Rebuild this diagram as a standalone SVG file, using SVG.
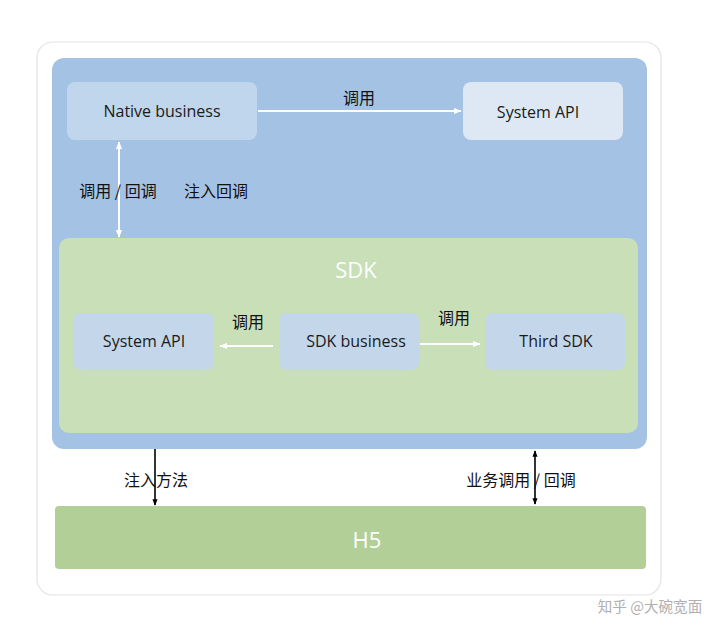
<svg xmlns="http://www.w3.org/2000/svg" width="720" height="636" viewBox="0 0 720 636">
<defs>
<style>
.lbl{font-family:"Open Sans","Noto Sans","Noto Sans CJK SC",sans-serif;font-size:16px;fill:#1a1a1a;text-anchor:middle}
.cn{font-family:"Noto Sans CJK SC",sans-serif;font-size:16px;fill:#111;text-anchor:middle}
.big{font-family:"Open Sans","Noto Sans",sans-serif;font-size:22px;fill:#ffffff;text-anchor:middle}
.wl{stroke:#ffffff;stroke-width:2;fill:none}
.bl{stroke:#000000;stroke-width:1.6;fill:none}
</style>
<marker id="aw" viewBox="0 0 10 10" refX="9" refY="5" markerWidth="4" markerHeight="4" orient="auto-start-reverse"><path d="M0,1 L10,5 L0,9 z" fill="#ffffff"/></marker>
<marker id="ab" viewBox="0 0 10 10" refX="9" refY="5" markerWidth="4" markerHeight="4" orient="auto-start-reverse"><path d="M0,1 L10,5 L0,9 z" fill="#000000"/></marker>
</defs>
<rect width="720" height="636" fill="#ffffff"/>
<rect id="card" x="37" y="42" width="624" height="553" rx="16" fill="#ffffff" stroke="#e3e3e3" stroke-width="1.2"/>
<g id="native-panel"><rect x="52" y="58" width="595" height="391" rx="12" fill="#a4c2e3"/></g>
<g id="native-business"><rect x="67" y="82" width="190" height="58" rx="8" fill="#c0d6ec"/><text class="lbl" x="162" y="117">Native business</text></g>
<g id="system-api-top"><rect x="463" y="82" width="160" height="58" rx="8" fill="#dde8f4"/><text class="lbl" x="538" y="118">System API</text></g>
<g id="sdk-panel"><rect x="59" y="238" width="579" height="195" rx="10" fill="#c8dfb8"/><text class="big" x="356" y="278">SDK</text></g>
<g id="system-api-sdk"><rect x="73" y="313" width="141" height="57" rx="8" fill="#c4d7ea"/><text class="lbl" x="144" y="347">System API</text></g>
<g id="sdk-business"><rect x="279" y="313" width="140" height="57" rx="8" fill="#c4d7ea"/><text class="lbl" x="356" y="347">SDK business</text></g>
<g id="third-sdk"><rect x="485" y="313" width="140" height="57" rx="8" fill="#c4d7ea"/><text class="lbl" x="556" y="347">Third SDK</text></g>
<g id="h5"><rect x="55" y="506" width="591" height="63" rx="4" fill="#b3cf98"/><text class="big" x="367" y="548">H5</text></g>
<g id="connectors">
<line class="wl" x1="258" y1="111" x2="461" y2="111" marker-end="url(#aw)"/>
<text class="cn" x="359" y="104">调用</text>
<line class="wl" x1="119" y1="142" x2="119" y2="237" marker-start="url(#aw)" marker-end="url(#aw)"/>
<text class="cn" x="118" y="197">调用 / 回调</text>
<text class="cn" x="216" y="197">注入回调</text>
<line class="wl" x1="273" y1="346" x2="220" y2="346" marker-end="url(#aw)"/>
<text class="cn" x="248" y="328">调用</text>
<line class="wl" x1="420" y1="344" x2="480" y2="344" marker-end="url(#aw)"/>
<text class="cn" x="454" y="324">调用</text>
<line class="bl" x1="155" y1="449" x2="155" y2="505" marker-end="url(#ab)"/>
<text class="cn" x="156" y="486">注入方法</text>
<line class="bl" x1="535" y1="451" x2="535" y2="504" marker-start="url(#ab)" marker-end="url(#ab)"/>
<text class="cn" x="521" y="486">业务调用 / 回调</text>
</g>
<text x="650" y="612" font-family="Noto Sans CJK SC,sans-serif" font-size="14.6" fill="#b0b0b0" text-anchor="middle">知乎 @大碗宽面</text>
</svg>
